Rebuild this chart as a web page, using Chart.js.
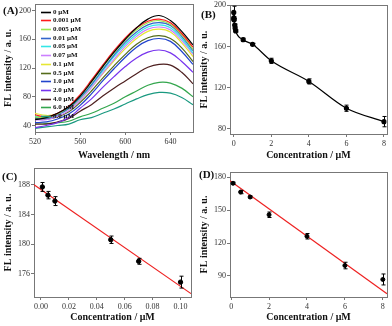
<!DOCTYPE html>
<html><head><meta charset="utf-8">
<script src="https://cdn.jsdelivr.net/npm/chart.js@4.4.1/dist/chart.umd.min.js"></script>
<style>
html,body{margin:0;padding:0;background:#fff;width:392px;height:326px;overflow:hidden}
canvas{position:absolute}
</style></head><body>
<canvas id="cA" width="196" height="163" style="left:0;top:0"></canvas>
<canvas id="cB" width="196" height="163" style="left:196px;top:0"></canvas>
<canvas id="cC" width="196" height="163" style="left:0;top:163px"></canvas>
<canvas id="cD" width="196" height="163" style="left:196px;top:163px"></canvas>
<script>
// ---------- DATA ----------
const wavelengths = [520,530,540,550,560,570,580,590,600,610,620,630,640,650,660];
const spectrumLabels = ['0 μM','0.001 μM','0.005 μM','0.01 μM','0.05 μM','0.07 μM','0.1 μM','0.5 μM','1.0 μM','2.0 μM','4.0 μM','6.0 μM','8.0 μM'];
const spec_0     = [48,51,57,66,81,101,122,142,160,176,188,193,186,171,152];
const spec_0_001 = [55,52,57,67,83,103,124,144,162,176,185,188,183,168,149];
const spec_0_005 = [52,51,56,66,81,100,121,141,159,173,183,186,181,166,146];
const spec_0_01  = [51,50,55,64,79,97,118,138,156,170,180,183,179,164,144];
const spec_0_05  = [53,51,55,64,78,96,116,136,153,167,177,180,176,161,141];
const spec_0_07  = [48,48,53,61,75,93,113,132,150,164,174,177,173,158,139];
const spec_0_1   = [57,54,56,63,76,93,112,130,147,161,171,174,170,155,136];
const spec_0_5   = [50,49,52,59,72,88,106,123,139,153,162,165,161,148,129];
const spec_1_0   = [44,45,49,56,68,84,102,119,135,149,158,161,157,143,125];
const spec_2_0   = [37,40,44,51,64,77,93,108,122,134,142,145,141,129,114];
const spec_4_0   = [42,42,45,50,60,69,81,92,102,112,121,125,124,114,98];
const spec_6_0   = [44,43,44,46,52,57,64,71,80,88,96,100,99,92,80];
const spec_8_0   = [36,38,40,42,48,51,57,63,70,77,83,86,85,79,69];
const spectra = [spec_0,spec_0_001,spec_0_005,spec_0_01,spec_0_05,spec_0_07,spec_0_1,spec_0_5,spec_1_0,spec_2_0,spec_4_0,spec_6_0,spec_8_0];

const concB   = [0,0.001,0.005,0.01,0.05,0.07,0.1,0.5,1,2,4,6,8];
const fluorB  = [193,187.7,186.6,185.8,180.7,177.8,175,166.5,162,146,126,100,87];
const errB    = [6,1,1,1,1,1,1,1.5,1,2.5,2.5,3,5];

const concC   = [0.001,0.005,0.01,0.05,0.07,0.1];
const fluorC  = [187.7,186.6,185.8,180.6,177.7,174.9];
const errC    = [0.6,0.5,0.6,0.5,0.4,0.8];
const fitC    = [187.35,-130.2]; // intercept, slope

const concD   = [0.1,0.5,1,2,4,6,8];
const fluorD  = [174.5,166.5,162,145.8,126.2,99.5,86.8];
const errD    = [1,1.5,1,2.5,2.5,3,5];
const fitD    = [176.0,-12.45];

const ticksA_x = [520,560,600,640];
const ticksA_y = [40,80,120,160,200];
const ticksB_x = [0,2,4,6,8];
const ticksB_y = [80,120,160,200];
const ticksC_x = [0,0.02,0.04,0.06,0.08,0.10];
const ticksC_y = [176,180,184,188];
const ticksD_x = [0,2,4,6,8];
const ticksD_y = [90,120,150,180];

// ---------- STYLE ----------
const SERIF = "'Liberation Serif','Times New Roman',serif";
const specColors = ['#000000','#ff1a1a','#99e64d','#3366cc','#33e6e6','#cc80ff','#e6e633','#556b1a','#2244cc','#7733ee','#4d1f1f','#33a64d','#1a9980'];
Chart.defaults.font.family = SERIF;
Chart.defaults.color = '#333';
Chart.defaults.animation = false;

function axis(min, max, ticks, title, size, isX, titlePad, fmt) {
  return {
    type: 'linear', min, max,
    afterBuildTicks: s => { s.ticks = ticks.map(v => ({value: v})); },
    afterFit: s => {
      if (isX) s.height = size; else s.width = size;
      s.paddingLeft = s.paddingRight = s.paddingTop = s.paddingBottom = 0;
    },
    grid: {drawOnChartArea: false, drawTicks: true, tickLength: 3, color: '#777', tickColor: '#777'},
    border: {display: true, color: '#777'},
    ticks: {font: {size: 8}, padding: isX ? 2 : 1, color: '#333', maxRotation: 0, autoSkip: false,
            callback: fmt ? (v => fmt(v)) : undefined},
    title: {display: true, text: title, font: {size: 10, weight: 'bold'}, color: '#111',
            padding: isX ? {top: 0, bottom: titlePad} : {top: titlePad, bottom: 0}}
  };
}

const boxPlugin = {
  id: 'box',
  beforeDatasetsDraw(chart) {
    const {ctx, chartArea: a} = chart;
    ctx.save(); ctx.strokeStyle = '#777'; ctx.lineWidth = 1;
    ctx.strokeRect(Math.round(a.left) + 0.5, Math.round(a.top) + 0.5, Math.round(a.right - a.left), Math.round(a.bottom - a.top));
    ctx.restore();
  }
};
const labelPlugin = {
  id: 'panelLabel',
  afterDraw(chart, args, o) {
    const ctx = chart.ctx; ctx.save();
    ctx.font = `bold 11px ${SERIF}`; ctx.fillStyle = '#111'; ctx.textBaseline = 'middle';
    ctx.fillText(o.text, o.x, o.y); ctx.restore();
  }
};
const errPlugin = {
  id: 'errBars',
  afterDatasetsDraw(chart) {
    const ctx = chart.ctx, xs = chart.scales.x, ys = chart.scales.y;
    chart.data.datasets.forEach(d => {
      if (!d.errors) return;
      ctx.save(); ctx.strokeStyle = '#000'; ctx.lineWidth = 1;
      d.data.forEach((p, i) => {
        const e = d.errors[i];
        const x = Math.round(xs.getPixelForValue(p.x)) + 0.5;
        const y1 = ys.getPixelForValue(p.y + e), y2 = ys.getPixelForValue(p.y - e);
        ctx.beginPath();
        ctx.moveTo(x, y1); ctx.lineTo(x, y2);
        ctx.moveTo(x - 2, y1); ctx.lineTo(x + 2, y1);
        ctx.moveTo(x - 2, y2); ctx.lineTo(x + 2, y2);
        ctx.stroke();
      });
      ctx.restore();
    });
  }
};
const legendA = {
  id: 'legendA',
  afterDraw(chart) {
    const ctx = chart.ctx; ctx.save();
    ctx.font = `bold 7px ${SERIF}`; ctx.textBaseline = 'middle';
    chart.data.datasets.forEach((d, i) => {
      const y = Math.round(11.7 + i * 8.69) + 0.5;
      ctx.strokeStyle = d.borderColor; ctx.lineWidth = 1.6;
      ctx.beginPath(); ctx.moveTo(41, y); ctx.lineTo(51, y); ctx.stroke();
      ctx.fillStyle = '#111'; ctx.fillText(d.label, 53, y);
    });
    ctx.restore();
  }
};

const pts = (xs, ys) => xs.map((x, i) => ({x, y: ys[i]}));
const common = (pad, labelOpts) => ({
  responsive: false, animation: false,
  layout: {padding: pad},
  plugins: {legend: {display: false}, tooltip: {enabled: false}, panelLabel: labelOpts}
});

// ---------- A ----------
new Chart(document.getElementById('cA'), {
  type: 'line',
  data: {datasets: spectra.map((s, i) => ({
    label: spectrumLabels[i], data: pts(wavelengths, s), borderColor: specColors[i],
    borderWidth: 1.2, pointRadius: 0, tension: 0.4, fill: false
  }))},
  options: Object.assign(common({left: 0, top: 4, right: 3, bottom: 0}, {text: '(A)', x: 3, y: 11}), {
    scales: {
      x: axis(520, 660, ticksA_x, 'Wavelength / nm', 31, true, 2),
      y: axis(31, 209, ticksA_y, 'FL intensity / a. u.', 35, false, 2)
    }
  }),
  plugins: [boxPlugin, legendA, labelPlugin]
});

// ---------- B ----------
new Chart(document.getElementById('cB'), {
  type: 'line',
  data: {datasets: [{
    data: pts(concB, fluorB), errors: errB, borderColor: '#000', backgroundColor: '#000',
    borderWidth: 1.2, pointRadius: 2, cubicInterpolationMode: 'monotone', fill: false
  }]},
  options: Object.assign(common({left: 0, top: 4, right: 3, bottom: 0}, {text: '(B)', x: 5, y: 15}), {
    scales: {
      x: axis(-0.2, 8.15, ticksB_x, 'Concentration / μM', 29, true, 2),
      y: axis(75, 200, ticksB_y, 'FL intensity / a. u.', 34, false, 2)
    }
  }),
  plugins: [boxPlugin, errPlugin, labelPlugin]
});

// ---------- C ----------
const cMin = -0.005, cMax = 0.1075;
new Chart(document.getElementById('cC'), {
  type: 'scatter',
  data: {datasets: [
    {data: pts(concC, fluorC), errors: errC, backgroundColor: '#000', borderColor: '#000', pointRadius: 2.2, order: 0},
    {type: 'line', data: pts([cMin, cMax], [fitC[0] + fitC[1] * cMin, fitC[0] + fitC[1] * cMax]),
     borderColor: '#ee2020', borderWidth: 1.2, pointRadius: 0, order: 1}
  ]},
  options: Object.assign(common({left: 0, top: 3, right: 1, bottom: 0}, {text: '(C)', x: 2, y: 14}), {
    scales: {
      x: axis(cMin, cMax, ticksC_x, 'Concentration / μM', 29, true, 3, v => v.toFixed(2)),
      y: axis(172.9, 190.25, ticksC_y, 'FL intensity / a. u.', 34, false, 2)
    }
  }),
  plugins: [boxPlugin, errPlugin, labelPlugin]
});

// ---------- D ----------
const dMin = -0.06, dMax = 8.22;
new Chart(document.getElementById('cD'), {
  type: 'scatter',
  data: {datasets: [
    {data: pts(concD, fluorD), errors: errD, backgroundColor: '#000', borderColor: '#000', pointRadius: 2, order: 0},
    {type: 'line', data: pts([dMin, dMax], [fitD[0] + fitD[1] * dMin, fitD[0] + fitD[1] * dMax]),
     borderColor: '#ee2020', borderWidth: 1.2, pointRadius: 0, order: 1}
  ]},
  options: Object.assign(common({left: 0, top: 9, right: 2, bottom: 0}, {text: '(D)', x: 3, y: 12}), {
    scales: {
      x: axis(dMin, dMax, ticksD_x, 'Concentration / μM', 29, true, 3),
      y: axis(70.8, 184.8, ticksD_y, 'FL intensity / a. u.', 34, false, 2)
    }
  }),
  plugins: [boxPlugin, errPlugin, labelPlugin]
});
</script>
</body></html>
